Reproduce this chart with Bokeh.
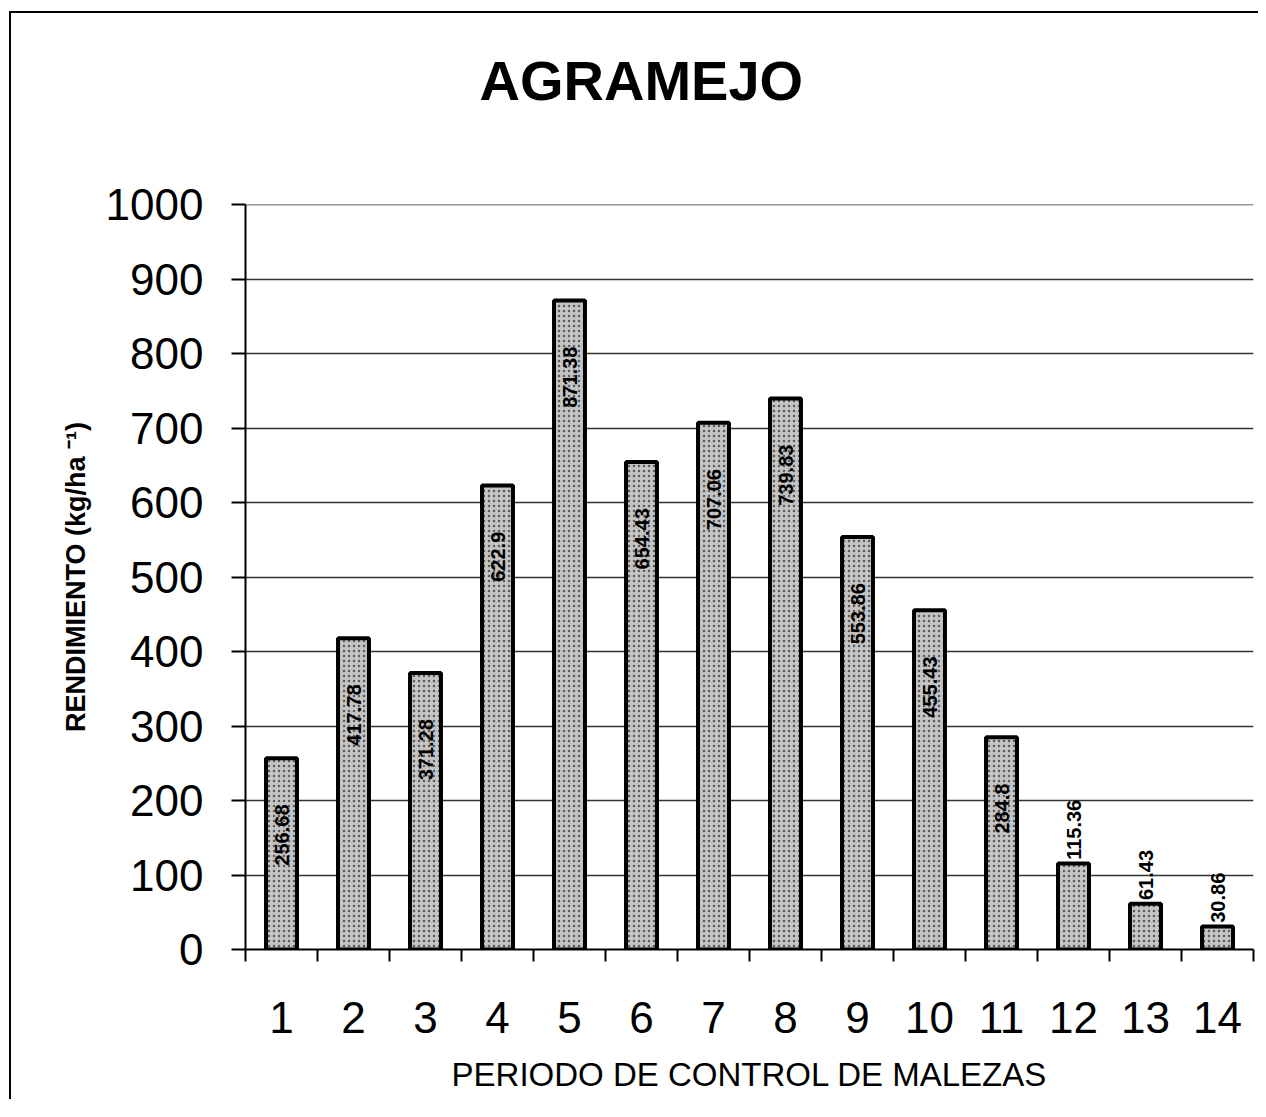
import numpy as np
from bokeh.plotting import figure
from bokeh.models import ColumnDataSource, Range1d, FixedTicker, Title
from bokeh.core.properties import value
from bokeh.embed import file_html
from bokeh.resources import INLINE

periods = list(range(1, 15))
yields = [256.68, 417.78, 371.28, 622.9, 871.38, 654.43, 707.06, 739.83,
          553.86, 455.43, 284.8, 115.36, 61.43, 30.86]
labels = ["256.68", "417.78", "371.28", "622.9", "871.38", "654.43", "707.06",
          "739.83", "553.86", "455.43", "284.8", "115.36", "61.43", "30.86"]
y_ticks = list(range(0, 1001, 100))
title_text = "AGRAMEJO"
x_title = "PERIODO DE CONTROL DE MALEZAS"
y_title = "RENDIMIENTO (kg/ha \u207b\u00b9)"

FONT = "Liberation Sans"

p = figure(output_backend="svg", toolbar_location=None, title_location=None,
           frame_width=1008, frame_height=745,
           min_border_left=234, min_border_right=5,
           min_border_top=191, min_border_bottom=150,
           x_range=Range1d(0.5, 14.5), y_range=Range1d(0, 1000.2),
           styles={"border-left": "2px solid black", "border-top": "2px solid black",
                   "margin-left": "9px", "margin-top": "11px"})
p.outline_line_color = None
p.background_fill_color = "white"
p.border_fill_color = "white"

# spacer panel between frame and title, then the title itself
p.add_layout(Title(text=" ", text_font_size="1px", standoff=60), "above")
p.add_layout(Title(text=title_text, align="left", offset=234, text_font=FONT,
                   text_font_size="56px", text_font_style="bold",
                   text_color="black", standoff=60), "above")

# bars
src = ColumnDataSource(dict(x=periods, top=yields, lab=labels))
p.vbar(x="x", top="top", width=0.43, bottom=0, source=src,
       fill_color="#c4c4c4", line_color="black", line_width=4,
       hatch_pattern="dot", hatch_color="#5a5a5a", hatch_scale=5, hatch_weight=1.3)

inside = [i for i in range(14) if i < 11]
outside = [i for i in range(14) if i >= 11]
in_src = ColumnDataSource(dict(x=[periods[i] for i in inside],
                               y=[yields[i] - 62 for i in inside],
                               t=[labels[i] for i in inside]))
p.text(x="x", y="y", text="t", source=in_src, angle=np.pi / 2,
       text_align="right", text_baseline="middle",
       text_font=value(FONT), text_font_size="20px", text_font_style="bold",
       text_color="black")
out_src = ColumnDataSource(dict(x=[periods[i] for i in outside],
                                y=[yields[i] + 5 for i in outside],
                                t=[labels[i] for i in outside]))
p.text(x="x", y="y", text="t", source=out_src, angle=np.pi / 2,
       text_align="left", text_baseline="middle",
       text_font=value(FONT), text_font_size="20px", text_font_style="bold",
       text_color="black")

# axes
p.xaxis.ticker = FixedTicker(ticks=periods, minor_ticks=[v + 0.5 for v in [0] + periods])
p.xaxis.major_tick_line_color = None
p.xaxis.minor_tick_out = 12
p.xaxis.minor_tick_in = 0
p.xaxis.minor_tick_line_width = 2
p.xaxis.axis_line_width = 2
p.xaxis.major_label_text_font = FONT
p.xaxis.major_label_text_font_size = "44px"
p.xaxis.major_label_text_color = "black"
p.xaxis.major_label_standoff = 40
p.xaxis.axis_label = x_title
p.xaxis.axis_label_text_font = FONT
p.xaxis.axis_label_text_font_size = "33px"
p.xaxis.axis_label_text_font_style = "normal"
p.xaxis.axis_label_text_color = "black"
p.xaxis.axis_label_standoff = 20

p.yaxis.ticker = FixedTicker(ticks=y_ticks)
p.yaxis.major_tick_out = 14
p.yaxis.major_tick_in = 0
p.yaxis.minor_tick_line_color = None
p.yaxis.axis_line_width = 2
p.yaxis.major_tick_line_width = 2
p.yaxis.major_label_text_font = FONT
p.yaxis.major_label_text_font_size = "44px"
p.yaxis.major_label_text_color = "black"
p.yaxis.major_label_standoff = 28
p.yaxis.axis_label = y_title
p.yaxis.axis_label_text_font = FONT
p.yaxis.axis_label_text_font_size = "27px"
p.yaxis.axis_label_text_font_style = "bold"
p.yaxis.axis_label_text_color = "black"
p.yaxis.axis_label_standoff = 12

p.xgrid.grid_line_color = None
p.ygrid.grid_line_color = "#333333"
p.ygrid.grid_line_width = 1.5

open("out.html", "w").write(file_html(p, INLINE))
